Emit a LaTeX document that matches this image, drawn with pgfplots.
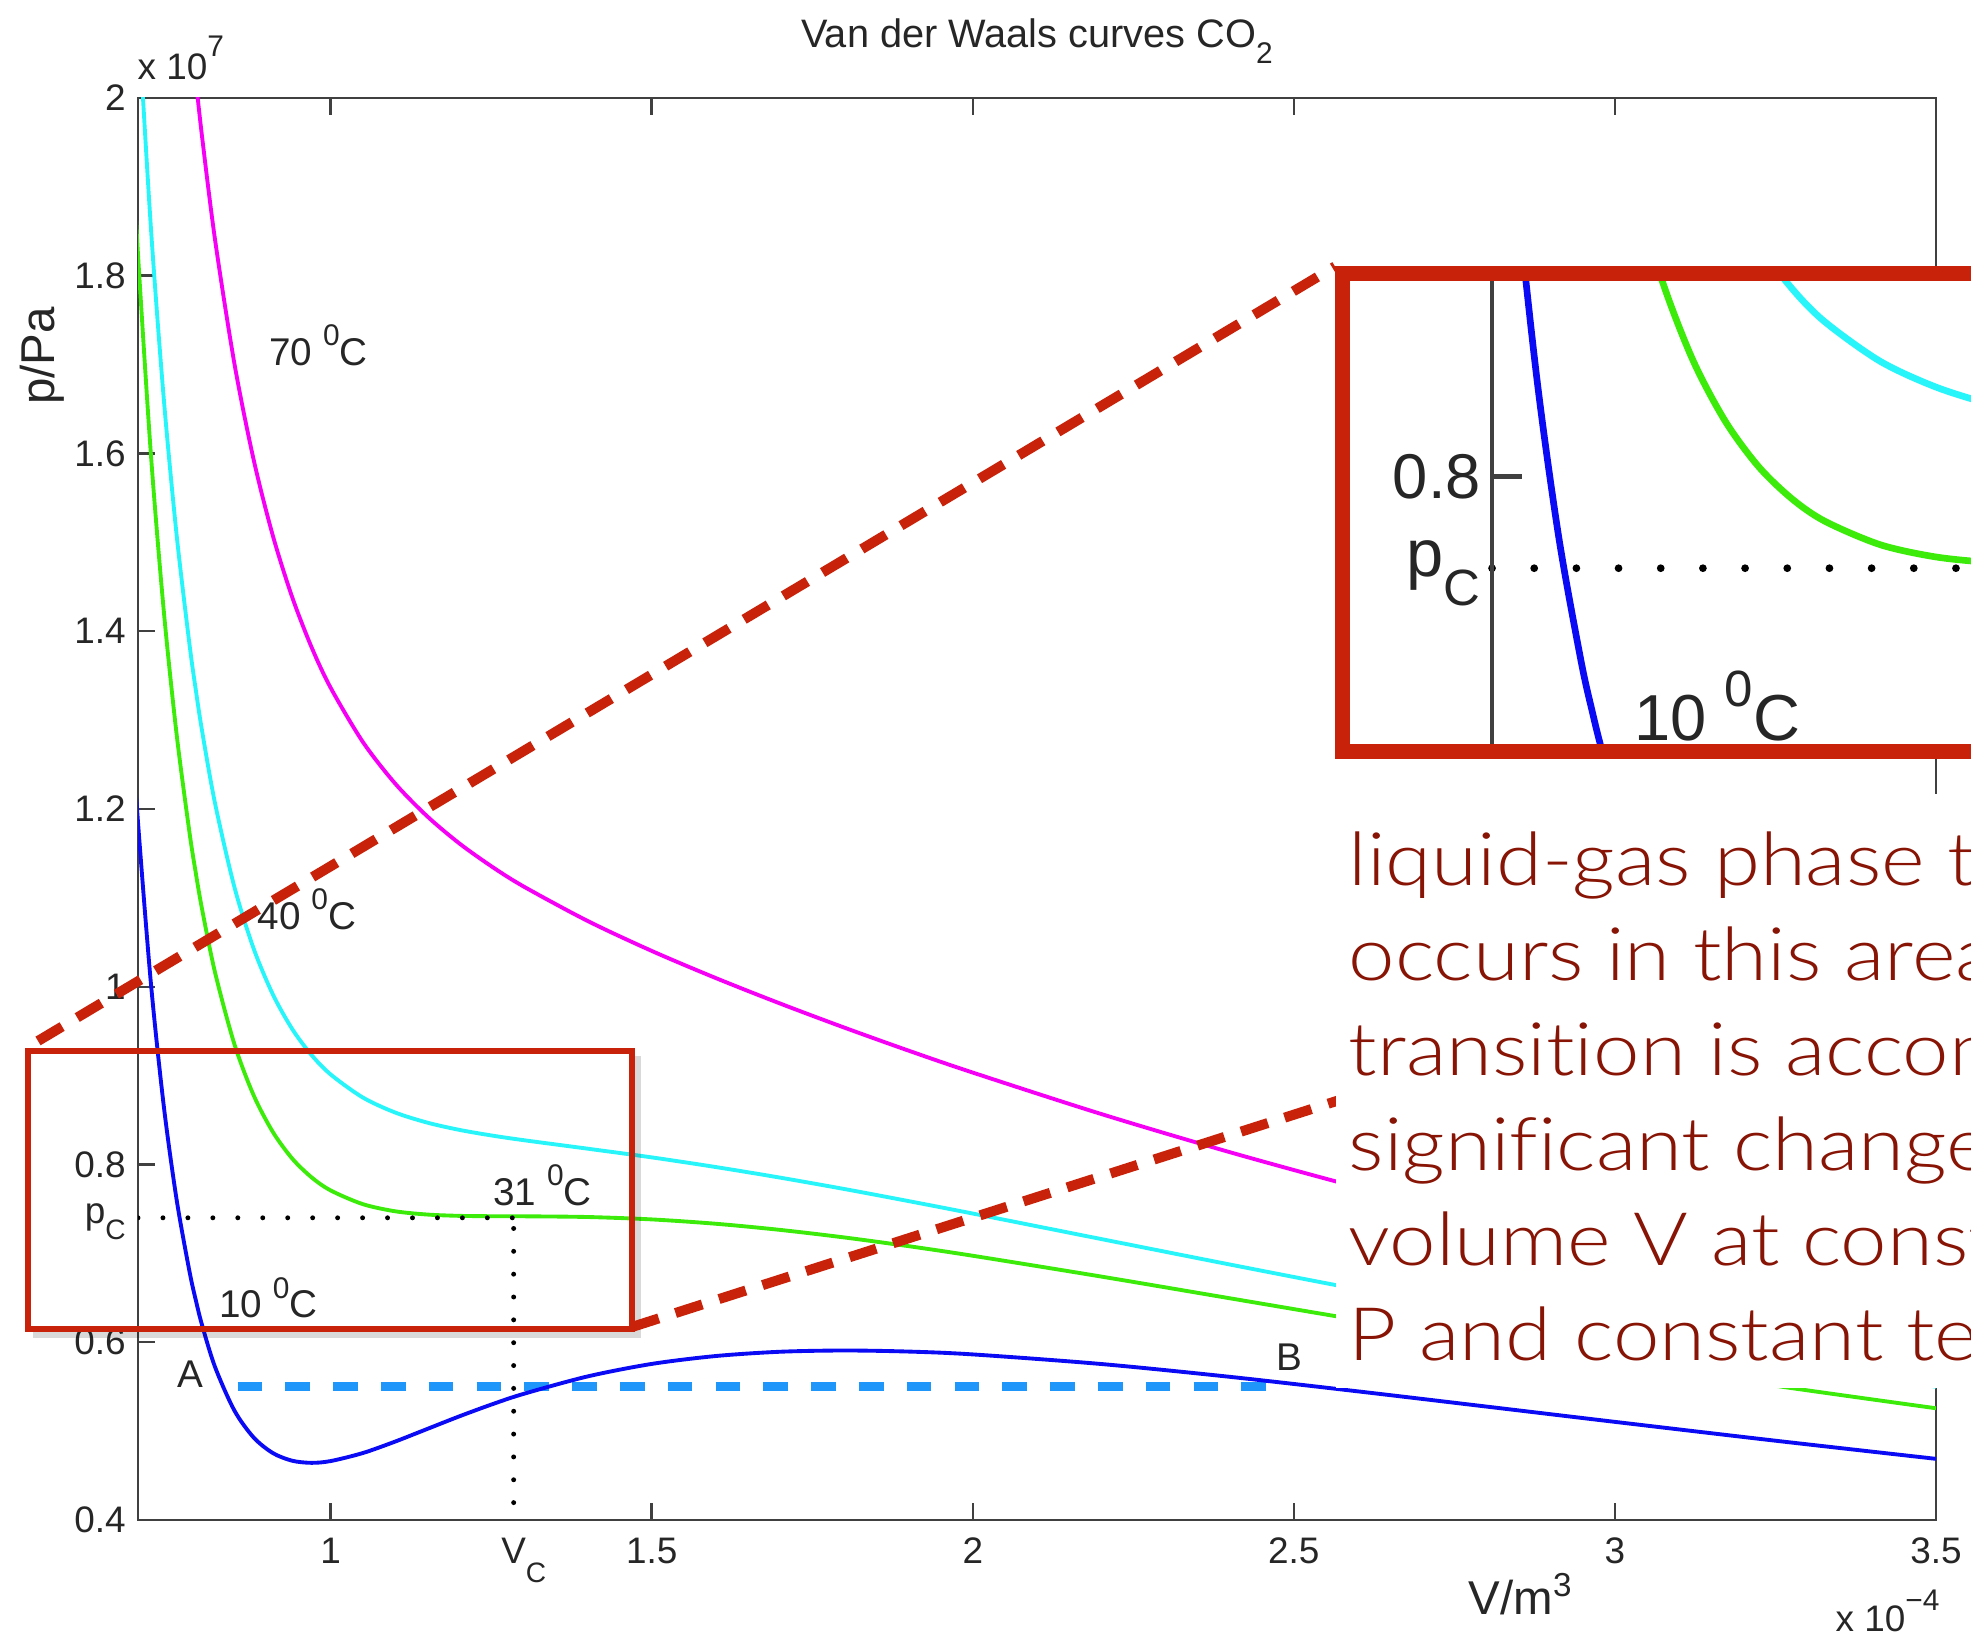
\documentclass[border=0pt]{standalone}
\usepackage{fontspec}
\setmainfont{Liberation Sans}
\IfFontExistsTF{Lato Light}{\newfontfamily\lightfont{Lato Light}[FakeStretch=1.13,Ligatures=NoCommon]}{\newfontfamily\lightfont{Lato}[FakeStretch=1.09,Ligatures=NoCommon]}
\usepackage{pgfplots}
\pgfplotsset{compat=1.18}
\usepackage{pgfplotstable}

\newcommand\sub[3]{\raisebox{-#3}{\fontsize{#1}{#1}\selectfont #2}}
\newcommand\sups[3]{\raisebox{#3}{\fontsize{#1}{#1}\selectfont #2}}

\definecolor{cblue}{RGB}{10,10,245}
\definecolor{cgreen}{RGB}{60,235,10}
\definecolor{ccyan}{RGB}{40,245,250}
\definecolor{cmag}{RGB}{245,0,245}
\definecolor{cdodger}{RGB}{30,150,250}
\definecolor{boxred}{RGB}{200,35,10}
\definecolor{textred}{RGB}{135,20,5}

\pgfplotstableread{
v     blue    green   cyan    magenta
0.69  1.2953  1.9584  2.2426  3.1899
0.70  1.1851  1.8239  2.0977  3.0103
0.72  1.0047  1.5999  1.8551  2.7055
0.74  0.8667  1.4240  1.6628  2.4590
0.76  0.7611  1.2849  1.5094  2.2578
0.78  0.6803  1.1745  1.3863  2.0923
0.79  0.6474  1.1280  1.3340  2.0205
0.80  0.6187  1.0864  1.2869  1.9550
0.82  0.5721  1.0160  1.2063  1.8404
0.85  0.5233  0.9357  1.1125  1.7017
0.88  0.4929  0.8780  1.0431  1.5933
0.91  0.4753  0.8366  0.9914  1.5075
0.94  0.4667  0.8068  0.9526  1.4386
0.97  0.4643  0.7857  0.9234  1.3825
1.00  0.4663  0.7708  0.9013  1.3364
1.05  0.4753  0.7554  0.8754  1.2756
1.10  0.4881  0.7474  0.8586  1.2290
1.15  0.5023  0.7437  0.8472  1.1920
1.20  0.5165  0.7422  0.8390  1.1615
1.25  0.5298  0.7418  0.8327  1.1357
1.30  0.5418  0.7417  0.8274  1.1130
1.40  0.5615  0.7409  0.8178  1.0741
1.50  0.5756  0.7382  0.8080  1.0403
1.60  0.5845  0.7333  0.7971  1.0097
1.70  0.5893  0.7264  0.7852  0.9811
1.80  0.5907  0.7179  0.7724  0.9540
1.90  0.5895  0.7081  0.7588  0.9281
2.00  0.5863  0.6973  0.7448  0.9034
2.20  0.5755  0.6739  0.7161  0.8568
2.40  0.5611  0.6495  0.6875  0.8139
2.60  0.5447  0.6251  0.6595  0.7743
2.80  0.5276  0.6012  0.6327  0.7378
3.00  0.5104  0.5782  0.6073  0.7043
3.25  0.4892  0.5510  0.5775  0.6659
3.50  0.4688  0.5257  0.5500  0.6312
}\vdw

\begin{document}
\begin{tikzpicture}
\path[use as bounding box] (0,0) rectangle (19.71,16.40);
\clip (0,0) rectangle (19.71,16.40);

% ---------------- main axis ----------------
\begin{axis}[
  at={(1.38cm,1.20cm)}, anchor=south west,
  scale only axis, width=17.98cm, height=14.22cm,
  xmin=0.7, xmax=3.5, ymin=0.4, ymax=2,
  xtick={1,1.5,2,2.5,3,3.5}, xticklabels={1,1.5,2,2.5,3,3.5},
  ytick={0.4,0.6,0.8,1,1.2,1.4,1.6,1.8,2},
  yticklabels={0.4,0.6,0.8,1,1.2,1.4,1.6,1.8,2},
  tick align=inside, major tick length=4.8pt,
  axis line style={draw=black!75, line width=0.7pt},
  tick style={draw=black!75, line width=0.7pt},
  tick label style={font=\fontsize{10.5}{12}\selectfont, text=black!85},
  xticklabel style={yshift=-1.5pt},
]
\addplot[cmag, line width=1.1pt, smooth] table[x=v,y=magenta]{\vdw};
\addplot[ccyan, line width=1.1pt, smooth] table[x=v,y=cyan]{\vdw};
\addplot[cgreen, line width=1.1pt, smooth] table[x=v,y=green]{\vdw};
\addplot[black, line width=1.4pt, line cap=round, dash pattern=on 0pt off 7.1pt] coordinates {(0.7,0.74) (1.285,0.74)};
\addplot[black, line width=1.4pt, line cap=round, dash pattern=on 0pt off 6.5pt] coordinates {(1.285,0.728) (1.285,0.4)};
\addplot[cdodger, line width=2.4pt, dash pattern=on 7pt off 6.6pt] coordinates {(0.855,0.55) (2.478,0.55)};
\addplot[cblue, line width=1.1pt, smooth] table[x=v,y=blue]{\vdw};
\begin{scope}[every node/.style={font=\fontsize{11}{13}\selectfont, text=black!85}]
\node at (axis cs:0.981,1.722) {70 \sups{8.5pt}{0}{5.6pt}C};
\node at (axis cs:0.963,1.087) {40 \sups{8.5pt}{0}{5.6pt}C};
\node at (axis cs:1.330,0.777) {31 \sups{8.5pt}{0}{5.6pt}C};
\node at (axis cs:0.903,0.650) {10 \sups{8.5pt}{0}{5.6pt}C};
\node at (axis cs:0.781,0.564) {A};
\node at (axis cs:2.493,0.583) {B};
\end{scope}
\coordinate (pcL) at (axis cs:0.7,0.74);
\coordinate (vcL) at (axis cs:1.285,0.4);
\end{axis}

\node[anchor=east, font=\fontsize{10.5}{12}\selectfont, text=black!85, inner sep=0.333em, yshift=-1pt] at (pcL) {p\sub{8pt}{C}{4.6pt}};
\node[anchor=north, font=\fontsize{10.5}{12}\selectfont, text=black!85, inner sep=0.333em, yshift=-1.5pt] at (vcL) {V\rlap{\sub{8pt}{C}{5.4pt}}};

% titles and labels
\node[anchor=base, font=\fontsize{11.3}{13}\selectfont, text=black!85] at (10.37,15.92) {Van der Waals curves CO\sub{8.5pt}{2}{4.5pt}};
\node[anchor=base west, font=\fontsize{10.5}{12}\selectfont, text=black!85, inner sep=0] at (1.37,15.60) {x 10\sups{8.5pt}{7}{6.8pt}};
\node[anchor=base west, font=\fontsize{10.5}{12}\selectfont, text=black!85, inner sep=0] at (18.35,0.08) {x 10\sups{8.5pt}{−4}{6pt}};
\node[anchor=base, font=\fontsize{13.5}{15}\selectfont, text=black!85] at (15.21,0.25) {V/m\textsuperscript{3}};
\node[rotate=90, font=\fontsize{13.5}{15}\selectfont, text=black!85] at (0.42,12.84) {p/Pa};

% small box with shadow
\draw[black, opacity=0.15, line width=2.5pt] (0.33,3.06) -- (6.37,3.06) -- (6.37,5.84);
\draw[boxred, line width=1.6pt] (0.277,3.11) rectangle (6.32,5.89);

% red dashed connectors
\draw[boxred, line width=2.85pt, dash pattern=on 8pt off 5pt] (0.38,5.99) -- (13.35,13.735);
\draw[boxred, line width=2.85pt, dash pattern=on 8pt off 5pt] (6.32,3.13) -- (15.0,5.914);

% ---------------- magnified inset ----------------
\fill[white] (13.425,8.883) rectangle (21,13.66);
\begin{axis}[
  at={(13.50cm,8.96cm)}, anchor=south west,
  scale only axis, width=10.29cm, height=4.625cm,
  xmin=0.5719, xmax=1.5, ymin=0.625, ymax=0.9276,
  hide axis,
]
\addplot[ccyan, line width=1.9pt, smooth] table[x=v,y=cyan]{\vdw};
\addplot[cgreen, line width=1.9pt, smooth] table[x=v,y=green]{\vdw};
\addplot[black, line width=2.2pt, line cap=round, dash pattern=on 0pt off 12pt] coordinates {(0.7,0.74) (1.285,0.74)};
\addplot[cblue, line width=1.9pt, smooth] table[x=v,y=blue]{\vdw};
\draw[black!75, line width=1.2pt] (axis cs:0.7,0.625) -- (axis cs:0.7,0.9276);
\draw[black!75, line width=1.2pt] (axis cs:0.7,0.8) -- (axis cs:0.727,0.8);
\node[anchor=east, font=\fontsize{18}{20}\selectfont, text=black!85, inner sep=0.3em] at (axis cs:0.7,0.8) {0.8};
\node[anchor=east, font=\fontsize{19}{20}\selectfont, text=black!85, inner sep=0.3em, yshift=-1.5pt] at (axis cs:0.7,0.74) {p\sub{14.5pt}{C}{8.2pt}};
\node[font=\fontsize{18.5}{20}\selectfont, text=black!85] at (axis cs:0.903,0.650) {10 \sups{14.5pt}{0}{9.6pt}C};
\end{axis}
\draw[boxred, line width=4.27pt] (13.425,8.883) rectangle (21,13.66);

% ---------------- text box ----------------
\fill[white] (13.36,2.52) rectangle (20,8.46);
\begin{scope}[every node/.style={anchor=base west, inner sep=0, text=textred, font=\lightfont\fontsize{21}{27}\selectfont}]
\node at (13.48,7.54) {liquid-gas phase transition};
\node at (13.48,6.59) {occurs in this area. The};
\node at (13.48,5.64) {transition is accompanied by a};
\node at (13.48,4.69) {significant change in};
\node at (13.48,3.74) {volume V at constant pressure};
\node at (13.48,2.79) {P and constant temperature T.};
\end{scope}
\end{tikzpicture}
\end{document}
